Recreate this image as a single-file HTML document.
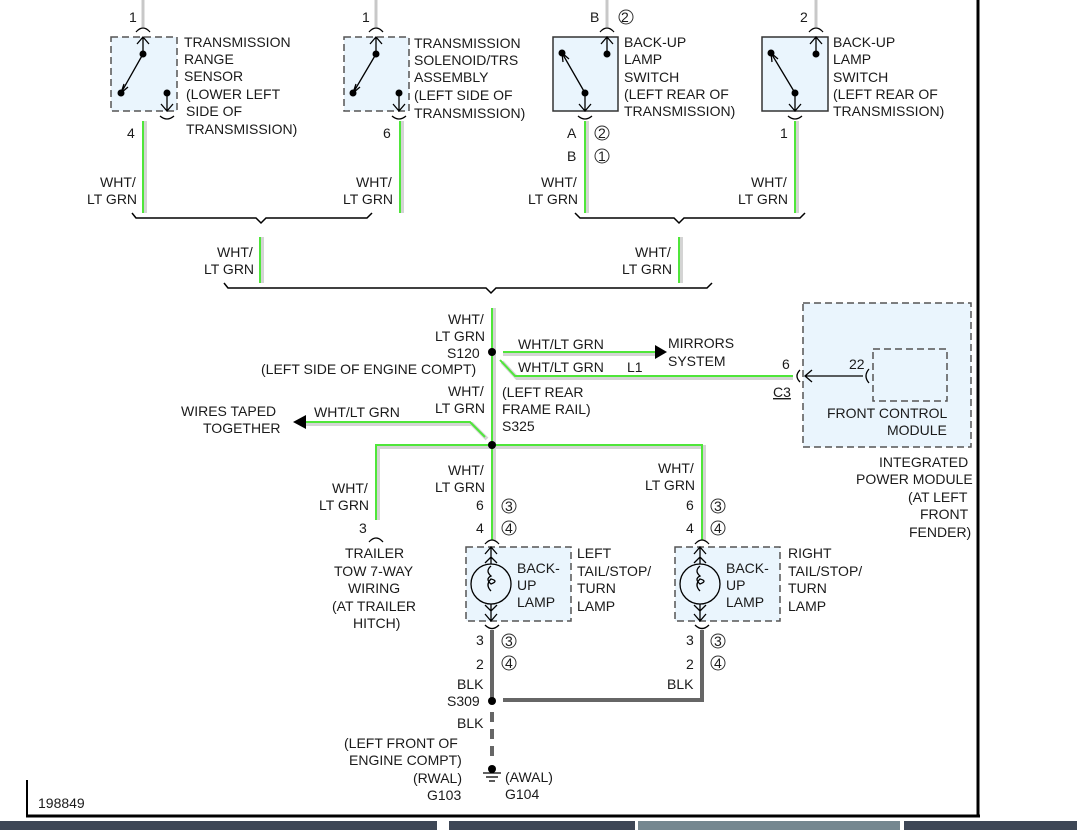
<!DOCTYPE html>
<html><head><meta charset="utf-8"><style>
html,body{margin:0;padding:0;background:#fff;width:1077px;height:830px;overflow:hidden}
svg{display:block}
text{font-family:"Liberation Sans",sans-serif;font-size:14px;fill:#1a1a1a}
.g0{stroke:#d4d4d4;stroke-width:4;fill:none}
.g1{stroke:#4fe63a;stroke-width:2;fill:none}
.k{stroke:#000;stroke-width:1.3;fill:none}
.db{fill:#eaf5fd;stroke:#555;stroke-width:1.5;stroke-dasharray:7 4}
.sb{fill:#eaf5fd;stroke:#333;stroke-width:1.5}
.bk{stroke:#666;stroke-width:4;fill:none}
.c{fill:none;stroke:#333;stroke-width:1}
</style></head><body>
<svg width="1077" height="830" viewBox="0 0 1077 830" xmlns="http://www.w3.org/2000/svg">
<!-- frame -->
<line x1="978" y1="0" x2="978" y2="816" stroke="#000" stroke-width="3"/>
<line x1="26" y1="816" x2="980" y2="816" stroke="#000" stroke-width="3"/>
<line x1="27" y1="780" x2="27" y2="816" stroke="#000" stroke-width="2"/>
<rect x="0" y="821" width="437" height="9" fill="#3e4756"/>
<rect x="449" y="821" width="186" height="9" fill="#3e4756"/>
<rect x="638" y="821" width="262" height="9" fill="#758790"/>
<rect x="904" y="821" width="173" height="9" fill="#3e4756"/>

<!-- top gray wires -->
<g stroke="#c8c8c8" stroke-width="3">
<line x1="143" y1="0" x2="143" y2="27"/><line x1="376" y1="0" x2="376" y2="27"/>
<line x1="607" y1="0" x2="607" y2="27"/><line x1="816" y1="0" x2="816" y2="27"/>
</g>
<g class="k">
<path d="M136 32 Q143 24 150 32"/><path d="M369 32 Q376 24 383 32"/>
<path d="M600 32 Q607 24 614 32"/><path d="M809 32 Q816 24 823 32"/>
<path d="M160 116 Q167 122 174 116"/><path d="M392 116 Q399 122 406 116"/>
<path d="M578 116 Q585 122 592 116"/><path d="M788 116 Q795 122 802 116"/>
</g>
<!-- boxes -->
<rect x="111" y="37" width="66" height="74" class="db"/>
<rect x="344" y="37" width="65" height="74" class="db"/>
<rect x="553" y="37" width="65" height="74" class="sb"/>
<rect x="762" y="37" width="66" height="74" class="sb"/>
<g class="k">
<path d="M143 37 V54 M137 44 L143 37 L149 44"/><path d="M143 54 L121 93 M124 84 L121 93 L128 87"/>
<path d="M167 93 V111 M161 104 L167 111 L173 104"/>
<path d="M376 37 V54 M370 44 L376 37 L382 44"/><path d="M376 54 L353 93 M356 84 L353 93 L360 87"/>
<path d="M399 93 V111 M393 104 L399 111 L405 104"/>
<path d="M607 37 V54 M601 44 L607 37 L613 44"/><path d="M585 93 L562 53 M563 62 L562 53 L569 59"/>
<path d="M585 93 V111 M579 104 L585 111 L591 104"/>
<path d="M816 37 V54 M810 44 L816 37 L822 44"/><path d="M795 93 L771 53 M772 62 L771 53 L778 59"/>
<path d="M795 93 V111 M789 104 L795 111 L801 104"/>
</g>
<g fill="#000">
<circle cx="143" cy="54" r="3.5"/><circle cx="121" cy="93" r="3.5"/><circle cx="167" cy="93" r="3.5"/>
<circle cx="376" cy="54" r="3.5"/><circle cx="353" cy="93" r="3.5"/><circle cx="399" cy="93" r="3.5"/>
<circle cx="607" cy="54" r="3.5"/><circle cx="562" cy="53" r="3.5"/><circle cx="585" cy="93" r="3.5"/>
<circle cx="816" cy="54" r="3.5"/><circle cx="771" cy="53" r="3.5"/><circle cx="795" cy="93" r="3.5"/>
</g>
<!-- top labels -->
<text x="129" y="22">1</text><text x="362" y="22">1</text><text x="590" y="22">B</text><text x="800" y="22">2</text>
<circle cx="626" cy="17" r="7" class="c"/><text x="621" y="22" font-size="12">2</text>
<text x="184" y="47">TRANSMISSION</text><text x="184" y="64">RANGE</text><text x="184" y="81">SENSOR</text>
<text x="186" y="99">(LOWER LEFT</text><text x="186" y="116">SIDE OF</text><text x="186" y="134">TRANSMISSION)</text>
<text x="414" y="48">TRANSMISSION</text><text x="414" y="65">SOLENOID/TRS</text><text x="414" y="82">ASSEMBLY</text>
<text x="414" y="100">(LEFT SIDE OF</text><text x="414" y="118">TRANSMISSION)</text>
<text x="624" y="47">BACK-UP</text><text x="624" y="64">LAMP</text><text x="624" y="82">SWITCH</text>
<text x="624" y="99">(LEFT REAR OF</text><text x="624" y="116">TRANSMISSION)</text>
<text x="833" y="47">BACK-UP</text><text x="833" y="64">LAMP</text><text x="833" y="82">SWITCH</text>
<text x="833" y="99">(LEFT REAR OF</text><text x="833" y="116">TRANSMISSION)</text>
<text x="127" y="138">4</text><text x="383" y="138">6</text><text x="567" y="138">A</text><text x="567" y="161">B</text><text x="780" y="138">1</text>
<circle cx="602" cy="133" r="7" class="c"/><text x="598" y="138" font-size="12">2</text>
<circle cx="602" cy="156" r="7" class="c"/><text x="598" y="161" font-size="12">1</text>

<!-- green upper wires -->
<g class="g0"><line x1="145" y1="121" x2="145" y2="213"/><line x1="402" y1="121" x2="402" y2="213"/><line x1="587" y1="121" x2="587" y2="213"/><line x1="797" y1="121" x2="797" y2="213"/><line x1="262" y1="237" x2="262" y2="283"/><line x1="681" y1="237" x2="681" y2="283"/></g>
<g class="g1"><line x1="143" y1="121" x2="143" y2="213"/><line x1="400" y1="121" x2="400" y2="213"/><line x1="585" y1="121" x2="585" y2="213"/><line x1="795" y1="121" x2="795" y2="213"/><line x1="260" y1="237" x2="260" y2="283"/><line x1="679" y1="237" x2="679" y2="283"/></g>
<g stroke="#000" stroke-width="1.5" fill="none">
<path d="M132 213 L136 218 H256 L261 223 L266 218 H367 L372 213"/>
<path d="M575 213 L580 218 H674 L679 223 L684 218 H800 L805 213"/>
<path d="M224 283 L228 288 H486 L491 293 L496 288 H707 L712 283"/>
</g>
<text x="100" y="187">WHT/</text><text x="87" y="204">LT GRN</text>
<text x="356" y="187">WHT/</text><text x="343" y="204">LT GRN</text>
<text x="541" y="187">WHT/</text><text x="528" y="204">LT GRN</text>
<text x="751" y="187">WHT/</text><text x="738" y="204">LT GRN</text>
<text x="217" y="257">WHT/</text><text x="204" y="274">LT GRN</text>
<text x="635" y="257">WHT/</text><text x="622" y="274">LT GRN</text>

<!-- middle green wires -->
<g class="g0">
<line x1="494" y1="308" x2="494" y2="540"/>
<line x1="503" y1="354" x2="655" y2="354"/>
<path d="M502 362 L517 378 H793"/>
<path d="M306 424 H472 L487 439"/>
<path d="M378 520 V447 H704 V540"/>
</g>
<g class="g1">
<line x1="492" y1="308" x2="492" y2="540"/>
<line x1="503" y1="352" x2="655" y2="352"/>
<path d="M500 360 L515 376 H793"/>
<path d="M306 422 H470 L485 437"/>
<path d="M376 520 V445 H702 V540"/>
</g>
<polygon points="655,345 667,352 655,359" fill="#000"/>
<polygon points="306,415 293,422 306,429" fill="#000"/>
<circle cx="492" cy="352" r="4" fill="#000"/><circle cx="492" cy="445" r="4" fill="#000"/>
<text x="448" y="324">WHT/</text><text x="435" y="341">LT GRN</text>
<text x="447" y="358">S120</text><text x="261" y="374">(LEFT SIDE OF ENGINE COMPT)</text>
<text x="518" y="349">WHT/LT GRN</text><text x="668" y="348">MIRRORS</text><text x="668" y="366">SYSTEM</text>
<text x="518" y="372">WHT/LT GRN</text><text x="627" y="372">L1</text>
<text x="448" y="396">WHT/</text><text x="435" y="413">LT GRN</text>
<text x="502" y="397">(LEFT REAR</text><text x="502" y="414">FRAME RAIL)</text><text x="502" y="431">S325</text>
<text x="181" y="416">WIRES TAPED</text><text x="203" y="433">TOGETHER</text><text x="314" y="417">WHT/LT GRN</text>

<!-- IPM -->
<rect x="803" y="303" width="168" height="144" class="db"/>
<rect x="873" y="349" width="74" height="52" class="db"/>
<g class="k"><path d="M800 370 Q794 376 800 382"/><path d="M869 369 Q863 376 869 383"/>
<path d="M805 376 H863 M812 370 L805 376 L812 382"/></g>
<text x="782" y="369">6</text><text x="773" y="397" text-decoration="underline">C3</text><text x="849" y="369">22</text>
<text x="827" y="418">FRONT CONTROL</text><text x="887" y="435">MODULE</text>
<text x="879" y="467">INTEGRATED</text><text x="856" y="484">POWER MODULE</text>
<text x="908" y="502">(AT LEFT</text><text x="920" y="519">FRONT</text><text x="909" y="537">FENDER)</text>

<!-- lower labels -->
<text x="448" y="475">WHT/</text><text x="435" y="492">LT GRN</text>
<text x="658" y="473">WHT/</text><text x="645" y="490">LT GRN</text>
<text x="332" y="493">WHT/</text><text x="319" y="510">LT GRN</text>
<text x="359" y="533">3</text>
<text x="476" y="510">6</text><text x="476" y="533">4</text>
<text x="686" y="510">6</text><text x="686" y="533">4</text>
<circle cx="509" cy="506" r="7" class="c"/><text x="505" y="511" font-size="12">3</text>
<circle cx="509" cy="528" r="7" class="c"/><text x="505" y="533" font-size="12">4</text>
<circle cx="718" cy="506" r="7" class="c"/><text x="714" y="511" font-size="12">3</text>
<circle cx="718" cy="528" r="7" class="c"/><text x="714" y="533" font-size="12">4</text>
<text x="345" y="558">TRAILER</text><text x="334" y="576">TOW 7-WAY</text><text x="348" y="593">WIRING</text>
<text x="332" y="611">(AT TRAILER</text><text x="353" y="628">HITCH)</text>
<g class="k"><path d="M369 542 Q376 534 383 542"/><path d="M485 544 Q492 536 499 544"/><path d="M695 544 Q702 536 709 544"/>
<path d="M485 625 Q492 632 499 625"/><path d="M695 625 Q702 632 709 625"/></g>

<!-- lamps -->
<rect x="466" y="547" width="105" height="74" class="db"/>
<rect x="675" y="547" width="105" height="74" class="db"/>
<g class="k">
<circle cx="491" cy="584" r="20"/>
<path d="M491 547 V564 M485 554 L491 547 L497 554 M485 563 L491 557 L497 563"/>
<path d="M491 604 V621 M485 614 L491 621 L497 614 M485 605 L491 611 L497 605"/>
<path d="M491 566 q-6 5 0 10 q-6 3 0 8 q8 -3 0 -5 q-6 6 0 12"/>
<circle cx="700" cy="584" r="20"/>
<path d="M700 547 V564 M694 554 L700 547 L706 554 M694 563 L700 557 L706 563"/>
<path d="M700 604 V621 M694 614 L700 621 L706 614 M694 605 L700 611 L706 605"/>
<path d="M700 566 q-6 5 0 10 q-6 3 0 8 q8 -3 0 -5 q-6 6 0 12"/>
</g>
<text x="517" y="573">BACK-</text><text x="517" y="590">UP</text><text x="517" y="607">LAMP</text>
<text x="726" y="573">BACK-</text><text x="726" y="590">UP</text><text x="726" y="607">LAMP</text>
<text x="577" y="558">LEFT</text><text x="577" y="576">TAIL/STOP/</text><text x="577" y="593">TURN</text><text x="577" y="611">LAMP</text>
<text x="788" y="558">RIGHT</text><text x="788" y="576">TAIL/STOP/</text><text x="788" y="593">TURN</text><text x="788" y="611">LAMP</text>

<!-- black wires -->
<path d="M492 630 V700 M702 630 V700 H503" class="bk"/>
<line x1="492" y1="712" x2="492" y2="762" stroke="#666" stroke-width="4" stroke-dasharray="10 7"/>
<circle cx="492" cy="701" r="4" fill="#000"/>
<circle cx="492" cy="769" r="4" fill="#000"/>
<g stroke="#000" stroke-width="1.3"><line x1="483" y1="773" x2="501" y2="773"/><line x1="486" y1="777" x2="498" y2="777"/><line x1="489" y1="781" x2="495" y2="781"/></g>
<text x="476" y="645">3</text><text x="476" y="669">2</text><text x="686" y="645">3</text><text x="686" y="669">2</text>
<circle cx="509" cy="641" r="7" class="c"/><text x="505" y="646" font-size="12">3</text>
<circle cx="509" cy="663" r="7" class="c"/><text x="505" y="668" font-size="12">4</text>
<circle cx="718" cy="641" r="7" class="c"/><text x="714" y="646" font-size="12">3</text>
<circle cx="718" cy="663" r="7" class="c"/><text x="714" y="668" font-size="12">4</text>
<text x="457" y="689">BLK</text><text x="667" y="689">BLK</text>
<text x="447" y="706">S309</text><text x="457" y="728">BLK</text>
<text x="344" y="748">(LEFT FRONT OF</text><text x="349" y="765">ENGINE COMPT)</text>
<text x="413" y="783">(RWAL)</text><text x="427" y="800">G103</text>
<text x="505" y="782">(AWAL)</text><text x="505" y="799">G104</text>
<text x="38" y="808" font-size="13">198849</text>
</svg>
</body></html>
